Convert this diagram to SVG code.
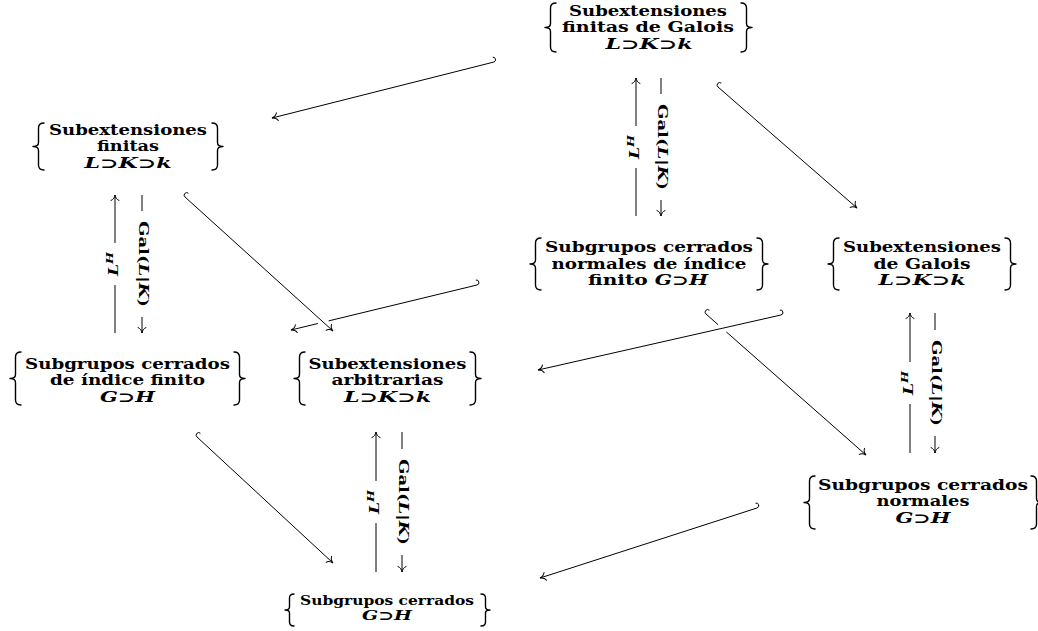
<svg xmlns="http://www.w3.org/2000/svg" width="1038" height="631" viewBox="0 0 1038 631">
<style>
.t{font-family:"DejaVu Serif","Liberation Serif",serif;font-weight:bold;font-size:14px;text-anchor:middle;fill:#000}
.s{font-size:12.5px}
.m{font-style:italic}
.lb{font-family:"DejaVu Serif","Liberation Serif",serif;font-weight:bold;font-size:13px;text-anchor:middle;fill:#000}
.sup{font-size:9.5px}
.br{fill:none;stroke:#000;stroke-width:1.4;stroke-linecap:round;stroke-linejoin:round}
.ar{fill:none;stroke:#000;stroke-width:1}
.hd{marker-end:url(#to)}
.gap{fill:#fff;stroke:none}
</style>
<defs>
<marker id="to" viewBox="-7 -5 8 10" refX="0" refY="0" markerWidth="8" markerHeight="10" markerUnits="userSpaceOnUse" orient="auto" overflow="visible">
<path d="M-5.5,-4 C-4.6,-1.5 -2.2,-0.4 0,0 C-2.2,0.4 -4.6,1.5 -5.5,4" fill="none" stroke="#000" stroke-width="1" stroke-linecap="round"/>
</marker>
</defs>
<rect width="1038" height="631" fill="#fff"/>

<g id="n-finitas-galois">
<path class="br" d="M556,3 Q550.5,3 550.5,8 L550.5,23.5 Q550.5,27.5 545,27.5 Q550.5,27.5 550.5,31.5 L550.5,47 Q550.5,52 556,52"/>
<path class="br" d="M741,3 Q746.5,3 746.5,8 L746.5,23.5 Q746.5,27.5 752,27.5 Q746.5,27.5 746.5,31.5 L746.5,47 Q746.5,52 741,52"/>
<text class="t"><tspan x="648" y="15.5" textLength="158" lengthAdjust="spacingAndGlyphs">Subextensiones</tspan><tspan x="648" y="32" textLength="172" lengthAdjust="spacingAndGlyphs">finitas de Galois</tspan><tspan x="649" y="48.5" textLength="87" lengthAdjust="spacingAndGlyphs"><tspan class="m">L</tspan>⊃<tspan class="m">K</tspan>⊃<tspan class="m">k</tspan></tspan></text>
</g>

<g id="n-finitas">
<path class="br" d="M44,123 Q38.5,123 38.5,128 L38.5,142.5 Q38.5,146.5 33,146.5 Q38.5,146.5 38.5,150.5 L38.5,165 Q38.5,170 44,170"/>
<path class="br" d="M212,123 Q217.5,123 217.5,128 L217.5,142.5 Q217.5,146.5 223,146.5 Q217.5,146.5 217.5,150.5 L217.5,165 Q217.5,170 212,170"/>
<text class="t"><tspan x="128" y="134.5" textLength="158" lengthAdjust="spacingAndGlyphs">Subextensiones</tspan><tspan x="128" y="151" textLength="62" lengthAdjust="spacingAndGlyphs">finitas</tspan><tspan x="128" y="167.5" textLength="87" lengthAdjust="spacingAndGlyphs"><tspan class="m">L</tspan>⊃<tspan class="m">K</tspan>⊃<tspan class="m">k</tspan></tspan></text>
</g>

<g id="n-normales-finito">
<path class="br" d="M541,238 Q535.5,238 535.5,243 L535.5,260 Q535.5,264 530,264 Q535.5,264 535.5,268 L535.5,285 Q535.5,290 541,290"/>
<path class="br" d="M757,238 Q762.5,238 762.5,243 L762.5,260 Q762.5,264 768,264 Q762.5,264 762.5,268 L762.5,285 Q762.5,290 757,290"/>
<text class="t"><tspan x="649" y="252" textLength="208" lengthAdjust="spacingAndGlyphs">Subgrupos cerrados</tspan><tspan x="649" y="268.5" textLength="195" lengthAdjust="spacingAndGlyphs">normales de índice</tspan><tspan x="648" y="285" textLength="120" lengthAdjust="spacingAndGlyphs">finito <tspan class="m">G</tspan>⊃<tspan class="m">H</tspan></tspan></text>
</g>

<g id="n-galois">
<path class="br" d="M839,238 Q833.5,238 833.5,243 L833.5,260 Q833.5,264 828,264 Q833.5,264 833.5,268 L833.5,285 Q833.5,290 839,290"/>
<path class="br" d="M1005,238 Q1010.5,238 1010.5,243 L1010.5,260 Q1010.5,264 1016,264 Q1010.5,264 1010.5,268 L1010.5,285 Q1010.5,290 1005,290"/>
<text class="t"><tspan x="922" y="252" textLength="158" lengthAdjust="spacingAndGlyphs">Subextensiones</tspan><tspan x="922" y="268.5" textLength="97" lengthAdjust="spacingAndGlyphs">de Galois</tspan><tspan x="922" y="285" textLength="87" lengthAdjust="spacingAndGlyphs"><tspan class="m">L</tspan>⊃<tspan class="m">K</tspan>⊃<tspan class="m">k</tspan></tspan></text>
</g>

<g id="n-indice-finito">
<path class="br" d="M21,352 Q15.5,352 15.5,357 L15.5,374.5 Q15.5,378.5 10,378.5 Q15.5,378.5 15.5,382.5 L15.5,400 Q15.5,405 21,405"/>
<path class="br" d="M234,352 Q239.5,352 239.5,357 L239.5,374.5 Q239.5,378.5 245,378.5 Q239.5,378.5 239.5,382.5 L239.5,400 Q239.5,405 234,405"/>
<text class="t"><tspan x="127.5" y="368.5" textLength="205" lengthAdjust="spacingAndGlyphs">Subgrupos cerrados</tspan><tspan x="127.5" y="385" textLength="155" lengthAdjust="spacingAndGlyphs">de índice finito</tspan><tspan x="127.5" y="401.5" textLength="55" lengthAdjust="spacingAndGlyphs"><tspan class="m">G</tspan>⊃<tspan class="m">H</tspan></tspan></text>
</g>

<g id="n-arbitrarias">
<path class="br" d="M305,352 Q299.5,352 299.5,357 L299.5,374.5 Q299.5,378.5 294,378.5 Q299.5,378.5 299.5,382.5 L299.5,400 Q299.5,405 305,405"/>
<path class="br" d="M470,352 Q475.5,352 475.5,357 L475.5,374.5 Q475.5,378.5 481,378.5 Q475.5,378.5 475.5,382.5 L475.5,400 Q475.5,405 470,405"/>
<text class="t"><tspan x="387.5" y="368.5" textLength="158" lengthAdjust="spacingAndGlyphs">Subextensiones</tspan><tspan x="387.5" y="385" textLength="112" lengthAdjust="spacingAndGlyphs">arbitrarias</tspan><tspan x="387.5" y="401.5" textLength="87" lengthAdjust="spacingAndGlyphs"><tspan class="m">L</tspan>⊃<tspan class="m">K</tspan>⊃<tspan class="m">k</tspan></tspan></text>
</g>

<g id="n-normales">
<path class="br" d="M815,476 Q809.5,476 809.5,481 L809.5,498.5 Q809.5,502.5 804,502.5 Q809.5,502.5 809.5,506.5 L809.5,524 Q809.5,529 815,529"/>
<path class="br" d="M1031,476 Q1036.5,476 1036.5,481 L1036.5,498.5 Q1036.5,502.5 1042,502.5 Q1036.5,502.5 1036.5,506.5 L1036.5,524 Q1036.5,529 1031,529"/>
<text class="t"><tspan x="923" y="489.5" textLength="210" lengthAdjust="spacingAndGlyphs">Subgrupos cerrados</tspan><tspan x="923" y="506" textLength="93" lengthAdjust="spacingAndGlyphs">normales</tspan><tspan x="923" y="522.5" textLength="55" lengthAdjust="spacingAndGlyphs"><tspan class="m">G</tspan>⊃<tspan class="m">H</tspan></tspan></text>
</g>

<g id="n-cerrados">
<path class="br" d="M294,594 Q289.5,594 289.5,598 L289.5,607 Q289.5,610 285,610 Q289.5,610 289.5,613 L289.5,622 Q289.5,626 294,626"/>
<path class="br" d="M481,594 Q485.5,594 485.5,598 L485.5,607 Q485.5,610 490,610 Q485.5,610 485.5,613 L485.5,622 Q485.5,626 481,626"/>
<text class="t s"><tspan x="387" y="605" textLength="174" lengthAdjust="spacingAndGlyphs">Subgrupos cerrados</tspan><tspan x="387" y="620" textLength="50" lengthAdjust="spacingAndGlyphs"><tspan class="m">G</tspan>⊃<tspan class="m">H</tspan></tspan></text>
</g>

<g id="connectors">
<path class="ar hd" d="M492.8,57.2 A2.5,2.5 0 0 1 494,62 L272,118"/>
<path class="ar hd" d="M721.3,83.2 A2.5,2.5 0 0 0 718,87 L857,208"/>
<path class="ar" d="M475.8,280.1 A2.5,2.5 0 0 1 477,285 L328.6,320.9"/>
<path class="ar hd" d="M317.9,323.5 L291,330"/>
<path class="ar hd" d="M188.4,193.3 A2.5,2.5 0 0 0 185,197 L333,331"/>
<path class="ar" d="M709.3,310.2 A2.5,2.5 0 0 0 706,314 L718.1,324.7"/>
<path class="ar hd" d="M726.3,331.9 L866,455"/>
<path class="ar hd" d="M779.9,310.1 A2.5,2.5 0 0 1 781,315 L538,370"/>
<path class="ar hd" d="M200.4,433.3 A2.5,2.5 0 0 0 197,437 L333,563"/>
<path class="ar hd" d="M755.5,503.2 A2.5,2.5 0 0 1 757,508 L540,578"/>

<path class="ar hd" d="M636,216 L636,78"/>
<path class="ar hd" d="M661,78 L661,216"/>
<rect class="gap" x="628" y="126" width="16" height="42"/>
<rect class="gap" x="653" y="94" width="16" height="106"/>
<text class="lb" transform="translate(636,147) rotate(-90)" y="3" textLength="24" lengthAdjust="spacingAndGlyphs"><tspan class="m">L</tspan><tspan class="m sup" dy="-5">H</tspan></text>
<text class="lb" transform="translate(661,147) rotate(90)" y="3.5" textLength="86" lengthAdjust="spacingAndGlyphs">Gal(<tspan class="m">L</tspan>|<tspan class="m">K</tspan>)</text>

<path class="ar hd" d="M115,333 L115,195"/>
<path class="ar hd" d="M142,195 L142,333"/>
<rect class="gap" x="107" y="243" width="16" height="42"/>
<rect class="gap" x="134" y="211" width="16" height="106"/>
<text class="lb" transform="translate(115,264) rotate(-90)" y="3" textLength="24" lengthAdjust="spacingAndGlyphs"><tspan class="m">L</tspan><tspan class="m sup" dy="-5">H</tspan></text>
<text class="lb" transform="translate(142,264) rotate(90)" y="3.5" textLength="86" lengthAdjust="spacingAndGlyphs">Gal(<tspan class="m">L</tspan>|<tspan class="m">K</tspan>)</text>

<path class="ar hd" d="M910,453 L910,313"/>
<path class="ar hd" d="M935,313 L935,453"/>
<rect class="gap" x="902" y="362" width="16" height="42"/>
<rect class="gap" x="927" y="330" width="16" height="106"/>
<text class="lb" transform="translate(910,383) rotate(-90)" y="3" textLength="24" lengthAdjust="spacingAndGlyphs"><tspan class="m">L</tspan><tspan class="m sup" dy="-5">H</tspan></text>
<text class="lb" transform="translate(935,383) rotate(90)" y="3.5" textLength="86" lengthAdjust="spacingAndGlyphs">Gal(<tspan class="m">L</tspan>|<tspan class="m">K</tspan>)</text>

<path class="ar hd" d="M376,572 L376,432"/>
<path class="ar hd" d="M402,432 L402,572"/>
<rect class="gap" x="368" y="481" width="16" height="42"/>
<rect class="gap" x="394" y="449" width="16" height="106"/>
<text class="lb" transform="translate(376,502) rotate(-90)" y="3" textLength="24" lengthAdjust="spacingAndGlyphs"><tspan class="m">L</tspan><tspan class="m sup" dy="-5">H</tspan></text>
<text class="lb" transform="translate(402,502) rotate(90)" y="3.5" textLength="86" lengthAdjust="spacingAndGlyphs">Gal(<tspan class="m">L</tspan>|<tspan class="m">K</tspan>)</text>
</g>
</svg>
